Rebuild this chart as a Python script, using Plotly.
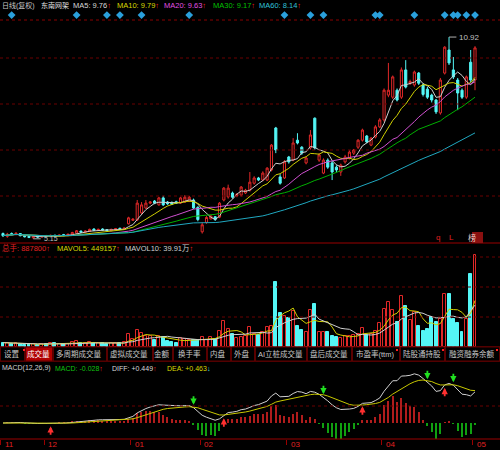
import numpy as np
import pandas as pd
import plotly.graph_objects as go

W, H = 500, 450

# daily bars (复权), first shown bar is in November
opens = [5.30, 5.22, 5.30, 5.27, 5.30, 5.24, 5.22, 5.18, 5.22, 5.20,
         5.24, 5.21, 5.25, 5.22, 5.27, 5.24, 5.28, 5.31, 5.37, 5.34,
         5.36, 5.43, 5.39, 5.43, 5.41, 5.38, 5.41, 5.45, 5.42, 5.58,
         5.68, 5.69, 5.89, 6.03, 6.17, 6.23, 6.12, 6.32, 6.20, 6.18,
         6.21, 6.17, 6.20, 6.22, 6.26, 6.05, 5.35, 5.62, 5.72, 5.78,
         5.77, 6.26, 6.35, 6.46, 6.38, 6.40, 6.46, 6.54, 6.74, 6.89,
         6.83, 6.83, 7.12, 8.32, 6.92, 6.89, 7.49, 7.40, 7.97, 7.77,
         7.32, 7.75, 8.60, 7.40, 7.03, 7.40, 7.32, 7.20, 7.06, 7.35,
         7.46, 7.60, 7.77, 7.97, 8.09, 7.83, 8.06, 8.35, 8.55, 9.26,
         9.20, 9.40, 9.20, 9.98, 9.60, 9.55, 9.89, 9.55, 9.43, 9.26,
         9.12, 8.75, 9.89, 10.55, 9.98, 9.69, 9.40, 9.20, 10.20, 9.69]
highs = [5.33, 5.32, 5.33, 5.34, 5.31, 5.26, 5.24, 5.23, 5.24, 5.25,
         5.26, 5.27, 5.27, 5.28, 5.29, 5.30, 5.35, 5.40, 5.39, 5.39,
         5.44, 5.45, 5.44, 5.45, 5.43, 5.44, 5.46, 5.47, 5.48, 5.78,
         5.74, 6.26, 6.20, 6.26, 6.23, 6.26, 6.35, 6.38, 6.23, 6.22,
         6.24, 6.35, 6.40, 6.38, 6.30, 6.08, 5.62, 5.80, 5.84, 5.80,
         6.20, 6.63, 6.70, 6.50, 6.46, 6.66, 6.58, 7.06, 6.94, 6.92,
         7.08, 7.20, 7.86, 8.35, 7.00, 7.40, 7.52, 8.03, 8.17, 7.80,
         7.50, 8.26, 8.62, 7.60, 7.45, 7.45, 7.38, 7.25, 7.30, 7.55,
         7.68, 7.72, 8.00, 8.30, 8.12, 8.06, 8.40, 8.60, 9.45, 10.18,
         9.82, 9.45, 10.05, 10.26, 9.70, 9.96, 9.92, 9.60, 9.50, 9.30,
         9.15, 9.75, 10.66, 10.92, 10.35, 9.75, 9.45, 9.82, 10.55, 10.66]
lows = [5.20, 5.18, 5.25, 5.25, 5.22, 5.19, 5.17, 5.15, 5.18, 5.19,
        5.20, 5.20, 5.21, 5.21, 5.23, 5.23, 5.27, 5.30, 5.32, 5.33,
        5.35, 5.38, 5.38, 5.39, 5.37, 5.37, 5.40, 5.41, 5.41, 5.56,
        5.66, 5.66, 5.85, 6.00, 6.14, 6.14, 6.10, 6.09, 6.12, 6.12,
        6.15, 6.15, 6.18, 6.20, 6.00, 5.65, 5.30, 5.58, 5.70, 5.66,
        5.74, 6.22, 6.30, 6.30, 6.34, 6.36, 6.43, 6.50, 6.70, 6.80,
        6.80, 6.80, 7.08, 7.60, 6.70, 6.86, 7.30, 7.37, 7.85, 7.55,
        7.28, 7.70, 7.70, 7.35, 7.00, 7.15, 6.83, 7.05, 6.95, 7.30,
        7.42, 7.55, 7.72, 7.93, 7.88, 7.80, 8.02, 8.32, 8.50, 9.20,
        9.15, 9.08, 9.15, 9.45, 9.55, 9.50, 9.55, 9.22, 9.15, 9.05,
        8.72, 8.70, 9.85, 10.12, 9.72, 8.83, 9.15, 9.15, 9.62, 9.40]
closes = [5.24, 5.28, 5.27, 5.31, 5.24, 5.21, 5.19, 5.21, 5.20, 5.23,
          5.21, 5.25, 5.22, 5.26, 5.24, 5.28, 5.33, 5.38, 5.34, 5.37,
          5.42, 5.39, 5.42, 5.40, 5.38, 5.42, 5.44, 5.42, 5.46, 5.75,
          5.71, 6.17, 6.12, 6.17, 6.20, 6.17, 6.32, 6.12, 6.15, 6.14,
          6.17, 6.32, 6.34, 6.34, 6.03, 5.70, 5.55, 5.76, 5.80, 5.70,
          6.17, 6.60, 6.60, 6.34, 6.42, 6.63, 6.54, 6.77, 6.89, 6.83,
          7.03, 7.17, 7.83, 7.69, 6.74, 7.35, 7.35, 7.89, 7.89, 7.60,
          7.46, 8.12, 7.75, 7.55, 7.40, 7.20, 7.06, 7.12, 7.26, 7.49,
          7.63, 7.69, 7.97, 8.26, 7.92, 8.03, 8.35, 8.55, 9.40, 9.40,
          9.78, 9.12, 9.98, 9.49, 9.65, 9.92, 9.60, 9.28, 9.20, 9.12,
          8.78, 9.69, 10.63, 10.18, 9.78, 9.32, 9.20, 9.78, 9.69, 10.61]
# 总手 (lots)
volumes = [42000, 38000, 30000, 35000, 28000, 22000, 25000, 30000, 24000, 32000,
           28000, 35000, 40000, 30000, 25000, 27000, 45000, 58000, 40000, 35000,
           48000, 38000, 42000, 35000, 32000, 36000, 38000, 40000, 45000, 125000,
           77000, 165000, 132000, 103000, 103000, 70000, 103000, 94000, 61000, 51000,
           36000, 84000, 77000, 70000, 70000, 70000, 94000, 70000, 99000, 77000,
           157000, 254000, 174000, 125000, 84000, 94000, 103000, 190000, 125000, 116000,
           148000, 190000, 206000, 624000, 328000, 302000, 277000, 350000, 200000, 164000,
           148000, 357000, 415000, 148000, 148000, 148000, 103000, 94000, 84000, 103000,
           109000, 116000, 125000, 180000, 116000, 125000, 157000, 232000, 367000, 431000,
           357000, 244000, 495000, 393000, 264000, 341000, 206000, 157000, 174000, 287000,
           244000, 270000, 511000, 511000, 270000, 232000, 148000, 270000, 704000, 887800]

month_labels = ["11", "12", "01", "02", "03", "04", "05"]
month_first_bar = [0, 10, 30, 46, 66, 88, 109]

signal_bars = [2, 17, 24, 27, 32, 43, 65, 71, 74, 86, 87, 95, 102, 104, 105, 107, 109]
golden_cross_bars = [11, 51, 83, 102]
dead_cross_bars = [44, 74, 98, 104]

tab_labels = ["设置", "成交量", "多周期成交量", "虚拟成交量", "金额", "换手率", "内盘",
              "外盘", "AI立桩成交量", "盘后成交量", "市盈率(ttm)", "陆股通持股", "融资融券余额"]

# ---- style ----
UP = "#e02828"
DOWN = "#54f6f6"
GRID = "#6a0000"
EDGE = "#9a0000"
FONT = "Liberation Sans, Noto Sans CJK SC"
MA_COLORS = {5: "#d0d0d0", 10: "#d0d000", 20: "#d050d0", 30: "#00b000", 60: "#20a8c0"}


def py(pix):
    return 1 - pix / H


def px(pix):
    return pix / W


df = pd.DataFrame({"open": opens, "high": highs, "low": lows, "close": closes, "vol": volumes})
bars = np.arange(len(df))
up = df["close"] >= df["open"]

ema12 = df["close"].ewm(span=12, adjust=False).mean()
ema26 = df["close"].ewm(span=26, adjust=False).mean()
diff = ema12 - ema26
dea = diff.ewm(span=9, adjust=False).mean()
macd = 2 * (diff - dea)

fig = go.Figure()

# price panel
fig.add_trace(go.Candlestick(
    x=bars, open=df["open"], high=df["high"], low=df["low"], close=df["close"],
    increasing=dict(line=dict(color=UP, width=1), fillcolor="#000000"),
    decreasing=dict(line=dict(color=DOWN, width=1), fillcolor=DOWN),
    xaxis="x", yaxis="y", showlegend=False, hoverinfo="skip",
))
for n, color in MA_COLORS.items():
    fig.add_trace(go.Scatter(
        x=bars, y=df["close"].rolling(n, min_periods=1).mean(), mode="lines",
        line=dict(color=color, width=1), xaxis="x", yaxis="y", showlegend=False, hoverinfo="skip",
    ))
fig.add_trace(go.Scatter(
    x=signal_bars, y=[11.55] * len(signal_bars), mode="markers",
    marker=dict(symbol="diamond", size=6, color="#2aa0dc"),
    xaxis="x", yaxis="y", showlegend=False, hoverinfo="skip",
))

# volume panel
fig.add_trace(go.Bar(
    x=bars, y=df["vol"], width=0.68,
    marker=dict(color=np.where(up, "#000000", DOWN), line=dict(color=np.where(up, UP, DOWN), width=1)),
    xaxis="x2", yaxis="y2", showlegend=False, hoverinfo="skip",
))
fig.add_trace(go.Scatter(x=bars, y=df["vol"].rolling(5, min_periods=1).mean(), mode="lines",
                         line=dict(color="#d0d000", width=1), xaxis="x2", yaxis="y2",
                         showlegend=False, hoverinfo="skip"))
fig.add_trace(go.Scatter(x=bars, y=df["vol"].rolling(10, min_periods=1).mean(), mode="lines",
                         line=dict(color="#d0d0d0", width=1), xaxis="x2", yaxis="y2",
                         showlegend=False, hoverinfo="skip"))

# MACD panel
fig.add_trace(go.Bar(
    x=bars, y=macd, width=0.28,
    marker=dict(color=np.where(macd >= 0, "#b01c1c", "#10a010"), line=dict(width=0)),
    xaxis="x3", yaxis="y3", showlegend=False, hoverinfo="skip",
))
fig.add_trace(go.Scatter(x=bars, y=diff, mode="lines", line=dict(color="#d0d0d0", width=1),
                         xaxis="x3", yaxis="y3", showlegend=False, hoverinfo="skip"))
fig.add_trace(go.Scatter(x=bars, y=dea, mode="lines", line=dict(color="#c8c800", width=1),
                         xaxis="x3", yaxis="y3", showlegend=False, hoverinfo="skip"))

xr = [-0.69, 114.77]
hidden_x = dict(range=xr, visible=False, fixedrange=True)
fig.update_layout(
    width=W, height=H, margin=dict(l=0, r=0, t=0, b=0),
    paper_bgcolor="#000000", plot_bgcolor="#000000",
    font=dict(family=FONT, size=7, color="#d0d0d0"),
    bargap=0, showlegend=False,
    xaxis=dict(hidden_x, anchor="y", rangeslider=dict(visible=False)),
    xaxis2=dict(hidden_x, anchor="y2", matches="x"),
    xaxis3=dict(range=xr, anchor="y3", matches="x", showgrid=False, zeroline=False, showline=False,
                ticks="outside", ticklen=5, tickcolor=EDGE, showticklabels=False,
                tickvals=[b - 0.5 for b in month_first_bar]),
    yaxis=dict(domain=[py(243), py(0)], range=[5.03, 11.98], visible=False),
    yaxis2=dict(domain=[py(347), py(243)], range=[0, 1003600], visible=False),
    yaxis3=dict(domain=[py(439), py(362)], range=[-0.2176, 0.8296], visible=False),
)

shapes = []
# dotted grid lines
for y in [20, 58, 104, 150, 196, 257, 287, 317, 406]:
    shapes.append(dict(type="line", xref="paper", yref="paper", x0=0, x1=1, y0=py(y), y1=py(y),
                       line=dict(color=GRID if y != 20 else "#8a0000", width=1, dash="dot")))
# solid separators
for y in [243, 347, 361, 439]:
    shapes.append(dict(type="line", xref="paper", yref="paper", x0=0, x1=1, y0=py(y), y1=py(y),
                       line=dict(color=EDGE, width=1)))

# tab bar
tab_edges = [0, 25, 53, 107, 153, 173, 207, 231, 255, 307, 352, 400, 445, 500]
annotations = []
for i, label in enumerate(tab_labels):
    x0, x1 = tab_edges[i], tab_edges[i + 1]
    selected = label == "成交量"
    shapes.append(dict(type="rect", xref="paper", yref="paper",
                       x0=px(x0 + 0.5), x1=px(x1 - 0.5), y0=py(361), y1=py(347),
                       line=dict(color="#5a0000", width=1),
                       fillcolor="#b00000" if selected else "#000000"))
    annotations.append(dict(xref="paper", yref="paper", x=px((x0 + x1) / 2 - 1), y=py(354),
                            text=label, showarrow=False, xanchor="center", yanchor="middle",
                            font=dict(size=7.5, color="#ffffff" if selected else "#c8c8c8")))
for x in [24, 397, 443, 497]:
    shapes.append(dict(type="rect", xref="paper", yref="paper", x0=px(x - 1), x1=px(x + 1),
                       y0=py(351), y1=py(349), line=dict(width=0), fillcolor="#ff2020"))

# high / low labels
hi = int(np.argmax(highs))
lo = int(np.argmin(lows))
shapes.append(dict(type="line", xref="x", yref="y", x0=hi, x1=hi + 1.7, y0=highs[hi], y1=highs[hi],
                   line=dict(color="#b0b0b0", width=1)))
annotations.append(dict(xref="x", yref="y", x=hi + 1.9, y=highs[hi], text=f"{highs[hi]:.2f}",
                        showarrow=False, xanchor="left", yanchor="middle",
                        font=dict(size=8, color="#c0c0c0")))
shapes.append(dict(type="line", xref="x", yref="y", x0=lo, x1=lo + 1.7, y0=lows[lo], y1=lows[lo],
                   line=dict(color="#b0b0b0", width=1)))
annotations.append(dict(xref="x", yref="y", x=lo + 1.9, y=lows[lo], text=f"{lows[lo]:.2f}",
                        showarrow=False, xanchor="left", yanchor="middle",
                        font=dict(size=7, color="#c0c0c0")))


def header(x, y, text, color, size=7.5):
    annotations.append(dict(xref="paper", yref="paper", x=px(x), y=py(y), text=text,
                            showarrow=False, xanchor="left", yanchor="middle",
                            font=dict(size=size, color=color)))


RED_UP = '<span style="color:#ff2020"><b>↑</b></span>'
header(0, 6, "日线(复权)", "#c8c8c8", 7)
header(39, 6, "东南网架", "#e0e0e0", 7)
header(71, 6, "MA5: 9.76" + RED_UP, "#d8d8d8")
header(115, 6, "MA10: 9.79" + RED_UP, "#d8d800")
header(162, 6, "MA20: 9.63" + RED_UP, "#e050e0")
header(211, 6, "MA30: 9.17" + RED_UP, "#00c000")
header(257, 6, "MA60: 8.14" + RED_UP, "#30c0d8")

header(0, 248, "总手: 887800" + RED_UP, "#e02020")
header(55, 248, "MAVOL5: 449157" + RED_UP, "#d8d800")
header(123, 248, "MAVOL10: 39.91万" + RED_UP, "#d0d0d0")

header(0, 368, "MACD(12,26,9)", "#d0d0d0", 7)
header(53, 368, "MACD: -0.028" + RED_UP, "#10c010", 7)
header(110, 368, "DIFF: +0.449" + RED_UP, "#d8d8d8", 7)
header(165, 368, 'DEA: +0.463<span style="color:#40e0f0"><b>↓</b></span>', "#d8d800", 7)

# q / L / 榜 marks
header(434, 238, "q", "#e02020", 8)
header(447, 238, "L", "#e02020", 8)
shapes.append(dict(type="rect", xref="paper", yref="paper", x0=px(472), x1=px(483), y0=py(243),
                   y1=py(232), line=dict(width=0), fillcolor="#8a1010"))
annotations.append(dict(xref="paper", yref="paper", x=px(477.5), y=py(238), text="榜",
                        showarrow=False, font=dict(size=8, color="#f0d0d0")))

# month labels
for b, lab in zip(month_first_bar, month_labels):
    annotations.append(dict(xref="x3", yref="paper", x=b - 0.5, y=py(444), text=lab,
                            showarrow=False, xanchor="left", yanchor="middle", xshift=2,
                            font=dict(size=8, color="#e02020")))

# cross signals
for b in golden_cross_bars:
    annotations.append(dict(xref="x3", yref="y3", x=b, y=float(diff[b]) - 0.04, text="",
                            showarrow=True, arrowhead=2, arrowsize=0.7, arrowwidth=1.8,
                            arrowcolor="#ff3030", ax=0, ay=10))
for b in dead_cross_bars:
    annotations.append(dict(xref="x3", yref="y3", x=b, y=float(diff[b]) + 0.04, text="",
                            showarrow=True, arrowhead=2, arrowsize=0.7, arrowwidth=1.8,
                            arrowcolor="#20e020", ax=0, ay=-10))

fig.update_layout(shapes=shapes, annotations=annotations)
fig.write_html("out.html", config={"displayModeBar": False},
               post_script="document.body.style.margin='0px';")
